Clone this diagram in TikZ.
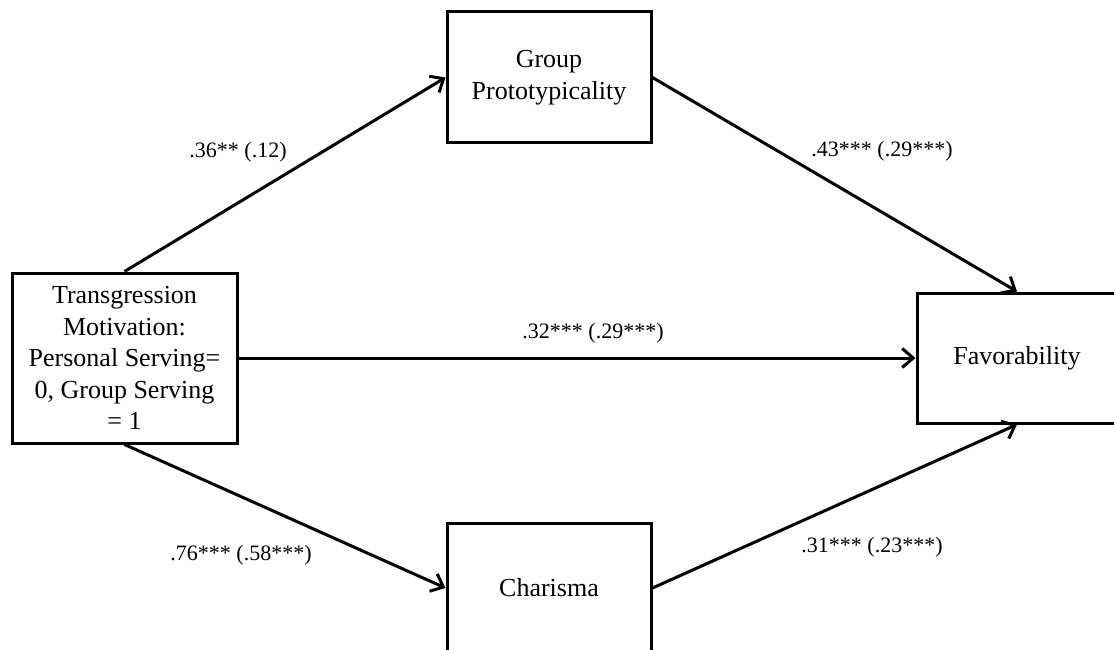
\documentclass[tikz,border=0pt]{standalone}
\usepackage{fontspec}
\setmainfont{Liberation Serif}
\usetikzlibrary{arrows.meta}
\begin{document}
\begin{tikzpicture}[x=1pt,y=-1pt,
  box/.style={draw=black,line width=3pt,fill=white,align=center,inner sep=0pt,
    font=\fontsize{26}{31.5}\selectfont},
  conn/.style={line width=3pt,-{Straight Barb[length=11pt,width=19pt]}},
  lab/.style={font=\fontsize{22}{26}\selectfont,inner sep=0pt}]
\useasboundingbox (0,0) rectangle (1114,650);
\clip (0,0) rectangle (1114,650);
\node[box,minimum width=225pt,minimum height=170pt] (tm) at (124.5,358)
  {Transgression\\Motivation:\\Personal Serving=\\0, Group Serving\\= 1};
\node[box,minimum width=204pt,minimum height=131pt] (gp) at (549,77.5)
  {Group\\Prototypicality};
\node[box,minimum width=204pt,minimum height=130pt] (ch) at (549,588)
  {Charisma};
\node[box,minimum width=200pt,minimum height=130pt] (fa) at (1017,358)
  {Favorability};
\draw[conn] (tm.north) -- (gp.west);
\draw[conn] (gp.east) -- (fa.north);
\draw[conn] (tm.east) -- (fa.west);
\draw[conn] (tm.south) -- (ch.west);
\draw[conn] (ch.east) -- (fa.south);
\node[lab] (l1) at (238,152) {.36** (.12)};
\node[lab] (l2) at (882,151) {.43*** (.29***)};
\node[lab] (l3) at (593,333) {.32*** (.29***)};
\node[lab] (l4) at (241,555) {.76*** (.58***)};
\node[lab] (l5) at (872,547) {.31*** (.23***)};
\end{tikzpicture}
\end{document}
